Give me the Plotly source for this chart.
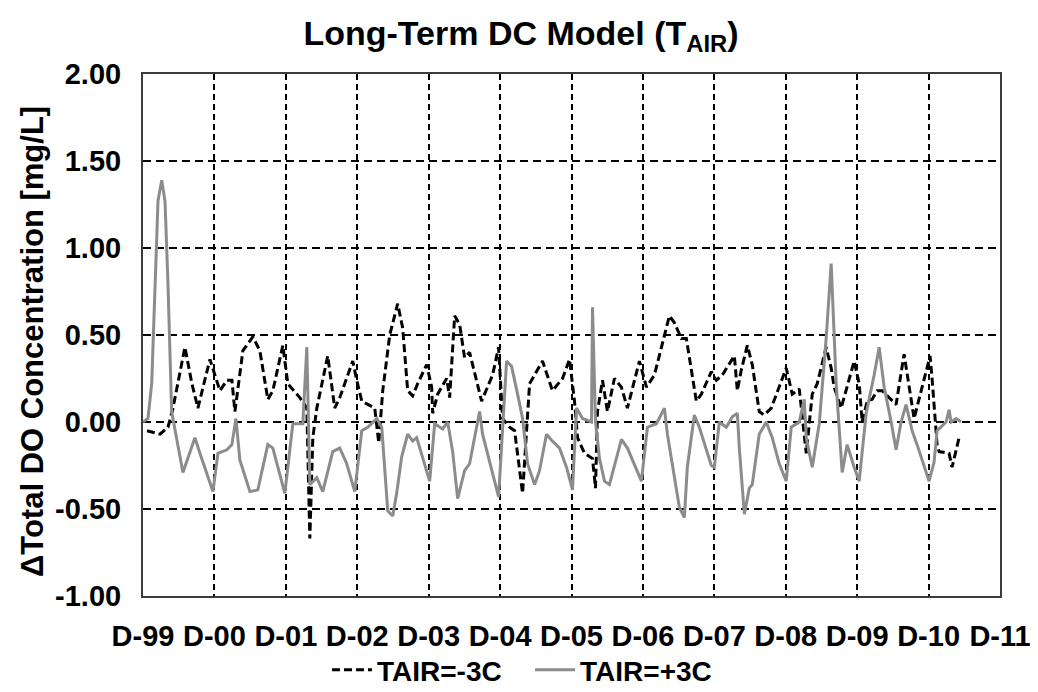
import plotly.graph_objects as go

# x positions are in years since December 1999 (D-99 = 0, D-11 = 12)
tick_labels = ["D-99", "D-00", "D-01", "D-02", "D-03", "D-04", "D-05",
               "D-06", "D-07", "D-08", "D-09", "D-10", "D-11"]
tick_years = list(range(len(tick_labels)))
y_ticks = [-1.0, -0.5, 0.0, 0.5, 1.0, 1.5, 2.0]

# TAIR = -3C (black dashed)
t_minus = [0.056, 0.238, 0.350, 0.420, 0.587, 0.685, 0.769, 0.937, 1.077, 1.175,
           1.245, 1.287, 1.399, 1.538, 1.636, 1.748, 1.818, 1.958, 2.028, 2.196,
           2.294, 2.336, 2.378, 2.434, 2.587, 2.685, 2.755, 2.937, 2.993, 3.063,
           3.245, 3.301, 3.357, 3.455, 3.566, 3.636, 3.706, 3.776, 3.846, 3.972,
           4.042, 4.056, 4.126, 4.252, 4.294, 4.364, 4.434, 4.503, 4.573, 4.741,
           4.895, 4.979, 5.035, 5.133, 5.203, 5.315, 5.413, 5.510, 5.594, 5.734,
           5.874, 5.972, 6.042, 6.084, 6.182, 6.294, 6.336, 6.364, 6.434, 6.503,
           6.601, 6.699, 6.783, 6.951, 7.049, 7.161, 7.259, 7.371, 7.441, 7.538,
           7.608, 7.748, 7.818, 7.958, 8.028, 8.112, 8.280, 8.322, 8.378, 8.462,
           8.531, 8.629, 8.699, 8.797, 9.007, 9.091, 9.189, 9.287, 9.371, 9.441,
           9.566, 9.636, 9.678, 9.776, 9.958, 10.028, 10.070, 10.140, 10.210, 10.280,
           10.350, 10.448, 10.545, 10.657, 10.727, 10.797, 10.909, 11.021, 11.049, 11.119,
           11.147, 11.287, 11.329, 11.427]
do_minus = [-0.05, -0.07, -0.03, 0.08, 0.43, 0.22, 0.08, 0.36, 0.18, 0.24,
            0.24, 0.06, 0.41, 0.49, 0.41, 0.13, 0.18, 0.44, 0.22, 0.14,
            0.08, -0.67, -0.09, 0.08, 0.38, 0.08, 0.14, 0.35, 0.24, 0.12,
            0.08, -0.12, 0.18, 0.50, 0.68, 0.54, 0.18, 0.15, 0.22, 0.33,
            0.20, 0.05, 0.16, 0.25, 0.14, 0.61, 0.56, 0.37, 0.40, 0.12,
            0.27, 0.43, 0.02, -0.03, -0.05, -0.41, 0.22, 0.29, 0.35, 0.18,
            0.25, 0.36, 0.12, -0.09, -0.18, -0.21, -0.38, 0.06, 0.24, 0.06,
            0.25, 0.20, 0.08, 0.35, 0.20, 0.27, 0.43, 0.61, 0.57, 0.48,
            0.48, 0.12, 0.16, 0.29, 0.24, 0.27, 0.38, 0.18, 0.30, 0.44,
            0.33, 0.06, 0.04, 0.08, 0.31, 0.16, 0.19, -0.18, 0.16, 0.22,
            0.43, 0.31, 0.20, 0.08, 0.35, 0.22, 0.00, 0.12, 0.13, 0.18,
            0.18, 0.14, 0.10, 0.39, 0.20, 0.02, 0.20, 0.38, 0.25, -0.13,
            -0.17, -0.18, -0.26, -0.09]

# TAIR = +3C (grey solid)
t_plus = [0.000, 0.070, 0.122, 0.168, 0.210, 0.262, 0.308, 0.350, 0.401, 0.559,
          0.657, 0.727, 0.797, 0.979, 1.049, 1.175, 1.245, 1.301, 1.357, 1.497,
          1.608, 1.748, 1.818, 1.986, 2.098, 2.238, 2.294, 2.336, 2.434, 2.517,
          2.657, 2.755, 2.853, 2.965, 3.063, 3.147, 3.273, 3.343, 3.427, 3.497,
          3.552, 3.622, 3.706, 3.776, 3.832, 4.014, 4.084, 4.196, 4.266, 4.336,
          4.406, 4.503, 4.573, 4.713, 4.755, 4.881, 4.979, 5.091, 5.161, 5.245,
          5.315, 5.385, 5.483, 5.552, 5.650, 5.734, 5.832, 5.930, 6.014, 6.070,
          6.154, 6.280, 6.294, 6.336, 6.392, 6.462, 6.531, 6.699, 6.783, 6.979,
          7.063, 7.189, 7.301, 7.343, 7.510, 7.580, 7.622, 7.720, 7.790, 7.958,
          8.000, 8.070, 8.168, 8.252, 8.322, 8.350, 8.420, 8.490, 8.531, 8.629,
          8.727, 8.811, 8.909, 9.007, 9.077, 9.189, 9.259, 9.287, 9.371, 9.469,
          9.566, 9.636, 9.706, 9.790, 9.860, 9.958, 10.028, 10.126, 10.238, 10.308,
          10.378, 10.476, 10.545, 10.615, 10.685, 10.769, 10.839, 11.007, 11.077, 11.119,
          11.245, 11.287, 11.315, 11.385, 11.455]
do_plus = [0.00, 0.02, 0.22, 0.79, 1.27, 1.39, 1.27, 0.79, 0.06, -0.29,
           -0.18, -0.09, -0.18, -0.40, -0.18, -0.16, -0.13, 0.02, -0.22, -0.40,
           -0.39, -0.13, -0.15, -0.41, -0.01, -0.01, 0.43, -0.36, -0.32, -0.40,
           -0.17, -0.15, -0.24, -0.40, -0.05, -0.03, 0.02, -0.03, -0.51, -0.54,
           -0.41, -0.20, -0.07, -0.11, -0.09, -0.34, -0.01, -0.04, 0.00, -0.17,
           -0.44, -0.28, -0.24, 0.06, -0.07, -0.28, -0.43, 0.35, 0.32, 0.16,
           0.02, -0.24, -0.36, -0.28, -0.07, -0.11, -0.15, -0.26, -0.39, 0.08,
           0.02, 0.00, 0.66, 0.00, -0.21, -0.34, -0.36, -0.10, -0.15, -0.34,
           -0.03, -0.01, 0.08, -0.07, -0.49, -0.55, -0.26, 0.04, -0.03, -0.25,
           -0.26, 0.00, -0.03, 0.03, 0.05, -0.15, -0.53, -0.38, -0.36, -0.07,
           0.00, -0.09, -0.24, -0.34, -0.03, 0.00, 0.13, -0.09, -0.26, -0.01,
           0.48, 0.91, 0.22, -0.29, -0.13, -0.26, -0.34, 0.05, 0.27, 0.43,
           0.20, 0.00, -0.16, 0.00, 0.10, -0.05, -0.13, -0.34, -0.23, -0.05,
           0.00, 0.07, 0.00, 0.02, 0.00]

FONT = "Liberation Sans, Arial, sans-serif"
W, H = 1038, 692
# page body adds an 8px offset; margins compensate so the plot frame lands at 143..1000 x 74..596
ML, MT, PW, PH = 135, 66, 857, 522

fig = go.Figure()
fig.add_trace(go.Scatter(
    x=t_minus, y=do_minus, mode="lines", name="<b>TAIR=-3C</b>&nbsp;&nbsp;&nbsp;",
    line=dict(color="black", width=3, dash="8px,4px"),
))
fig.add_trace(go.Scatter(
    x=t_plus, y=do_plus, mode="lines", name="<b>TAIR=+3C</b>",
    line=dict(color="#8c8c8c", width=3),
))

fig.update_layout(
    width=W, height=H,
    margin=dict(l=ML, r=W - ML - PW, t=MT, b=H - MT - PH, autoexpand=False),
    paper_bgcolor="white", plot_bgcolor="white",
    font=dict(family=FONT, color="black"),
    title=dict(text="<b>Long-Term DC Model (T<sub>AIR</sub>)</b>",
               x=513 / W, xref="container", xanchor="center",
               y=1 - 25 / H, yref="container", yanchor="middle",
               automargin=False,
               font=dict(size=34, family=FONT, color="black")),
    showlegend=True,
    legend=dict(orientation="h", x=514 / W, xref="container", xanchor="center",
                y=1 - 662 / H, yref="container", yanchor="middle",
                font=dict(size=28, family=FONT, color="black"),
                bgcolor="rgba(0,0,0,0)", itemwidth=40, tracegroupgap=0),
    annotations=[dict(
        text="<b>\u0394Total DO Concentration [mg/L]</b>",
        xref="paper", yref="paper",
        x=(24 - ML) / PW, y=(MT + PH - 334) / PH,
        xanchor="center", yanchor="middle", textangle=-90, showarrow=False,
        font=dict(size=31, family=FONT, color="black"),
    )],
)

fig.update_xaxes(
    range=[0, 12], tickvals=tick_years, ticktext=["<b>%s</b>" % s for s in tick_labels],
    tickfont=dict(size=29, family=FONT, color="black"),
    showgrid=True, gridcolor="black", gridwidth=1.5, griddash="6px,4px",
    zeroline=False, showline=True, linecolor="#3c3c3c", linewidth=2, mirror=True,
    ticks="", ticklabelstandoff=13, automargin=False,
)
fig.update_yaxes(
    range=[-1, 2], tickvals=y_ticks, ticktext=["<b>%.2f</b>" % v for v in y_ticks],
    tickfont=dict(size=29, family=FONT, color="black"),
    showgrid=True, gridcolor="black", gridwidth=1.5, griddash="8px,5px",
    zeroline=False, showline=True, linecolor="#3c3c3c", linewidth=2, mirror=True,
    ticks="", ticklabelstandoff=14, automargin=False,
)

fig.write_html("out.html")
